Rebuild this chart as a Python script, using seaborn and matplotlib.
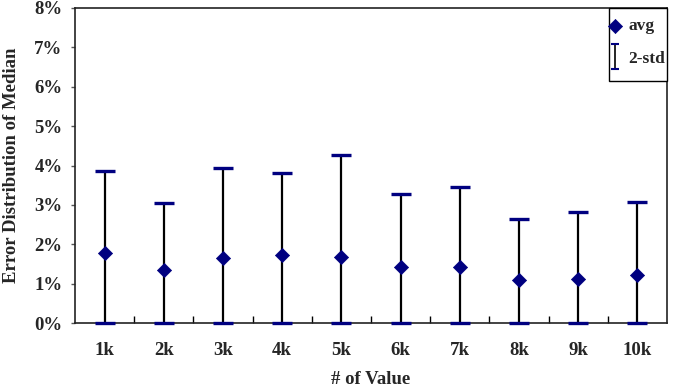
import numpy as np
import pandas as pd
import matplotlib
matplotlib.use("Agg")
import matplotlib.pyplot as plt
from matplotlib.patches import Rectangle
from matplotlib.container import ErrorbarContainer
from matplotlib.legend_handler import HandlerErrorbar
from matplotlib.ticker import FuncFormatter, FixedLocator
import seaborn as sns

# data (values in %)
sizes = ["1k", "2k", "3k", "4k", "5k", "6k", "7k", "8k", "9k", "10k"]
avg = [1.79, 1.35, 1.64, 1.72, 1.68, 1.42, 1.41, 1.08, 1.13, 1.21]
upper = [3.87, 3.05, 3.93, 3.82, 4.27, 3.27, 3.46, 2.63, 2.83, 3.08]
lower = [0, 0, 0, 0, 0, 0, 0, 0, 0, 0]

df = pd.DataFrame({"size": sizes, "avg": avg, "upper": upper, "lower": lower})
df["pos"] = np.arange(len(df))

sns.set_style("white")
plt.rcParams["font.family"] = ["Liberation Serif", "DejaVu Serif"]
plt.rcParams["font.weight"] = "bold"

navy = "#000080"
fs = 13.5

fig = plt.figure(figsize=(6.86, 3.92), dpi=100)
ax = fig.add_axes([0.1093, 0.176, 0.8630, 0.8036])


def navy_caps(container):
    for cl in container[1]:
        cl.set_color(navy)
        cl.set_markeredgecolor(navy)
        cl.set_markerfacecolor(navy)
        cl.set_zorder(3)
        cl.set_clip_on(False)


# error bars: black stem, navy caps
eb = ax.errorbar(df["pos"], df["avg"],
                 yerr=[df["avg"] - df["lower"], df["upper"] - df["avg"]],
                 fmt="none", ecolor="black", elinewidth=1.6, capsize=7,
                 capthick=2.4, zorder=2)
navy_caps(eb)

# small version used only as legend key
eb_key = ax.errorbar([np.nan], [np.nan], yerr=[[1], [1]], fmt="none",
                     ecolor="black", elinewidth=1.2, capsize=3, capthick=1.5)
navy_caps(eb_key)

sns.scatterplot(data=df, x="pos", y="avg", marker="D", color=navy, s=52,
                edgecolor=navy, linewidth=0.5, label="avg", zorder=4, ax=ax)

ax.set_xlim(-0.5, len(sizes) - 0.5)
ax.set_ylim(0, 8)
ax.set_yticks(np.arange(0, 9, 1))
ax.yaxis.set_major_formatter(FuncFormatter(lambda v, p: f"{v:.0f}%"))
ax.set_xticks(df["pos"])
ax.set_xticklabels(sizes)
ax.xaxis.set_minor_locator(FixedLocator(np.arange(0.5, len(sizes) - 1, 1)))

ax.tick_params(axis="x", which="major", length=0, pad=14, labelsize=fs)
ax.tick_params(axis="x", which="minor", direction="in", length=5, width=1,
               color="black", bottom=True)
ax.tick_params(axis="y", which="major", direction="out", length=3, width=1,
               color="#555555", left=True, labelsize=fs, pad=6)
for lab in ax.get_xticklabels() + ax.get_yticklabels():
    lab.set_fontweight("bold")

for sp in ax.spines.values():
    sp.set_color("#222222")
    sp.set_linewidth(1.2)

ax.set_xlabel("# of Value", fontsize=fs, fontweight="bold", labelpad=8)
ax.set_ylabel("Error Distribution of Median", fontsize=fs, fontweight="bold",
              labelpad=10)

handles, labels = ax.get_legend_handles_labels()
avg_handle = handles[labels.index("avg")]
leg = ax.legend([avg_handle, eb_key], ["avg", "2-std"],
                loc="upper left", bbox_to_anchor=(0.895, 0.985),
                borderaxespad=0, frameon=False, handlelength=0.6,
                handletextpad=0.45, labelspacing=0.95, borderpad=0.3,
                handler_map={ErrorbarContainer: HandlerErrorbar(yerr_size=0.7)},
                prop={"family": "Liberation Serif", "weight": "bold",
                      "size": 12.5})
# tall legend frame like the original
ax.add_patch(Rectangle((0.902, 0.768), 0.098, 0.232, transform=ax.transAxes,
                       facecolor="white", edgecolor="black", linewidth=1.0,
                       zorder=5, clip_on=False))
leg.set_zorder(6)

fig.savefig("out.png", dpi=100)
